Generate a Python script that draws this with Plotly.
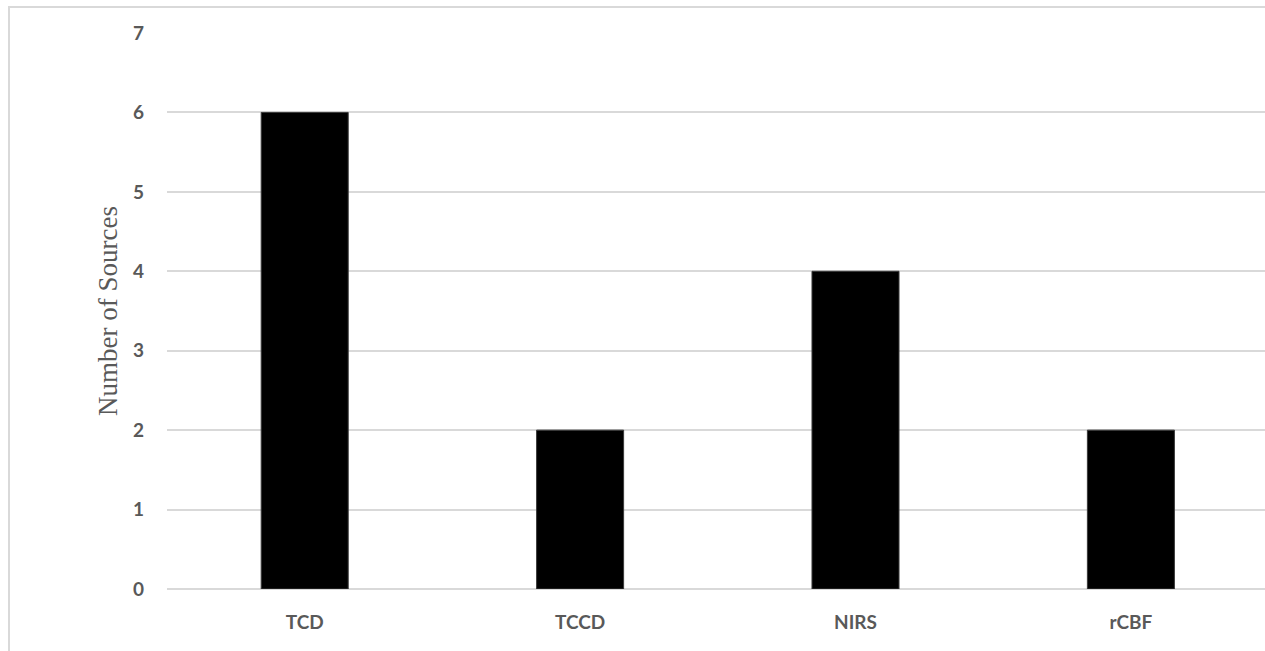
import plotly.graph_objects as go

categories = ["TCD", "TCCD", "NIRS", "rCBF"]
sources = [6, 2, 4, 2]
y_ticks = [0, 1, 2, 3, 4, 5, 6, 7]

W, H = 1265, 651
ml, mr, mt, mb = 167, 0, 33, 62

fig = go.Figure(
    go.Bar(
        x=categories,
        y=sources,
        marker=dict(color="#000000", line=dict(color="#3a3a3a", width=1)),
        hoverinfo="x+y",
    )
)

pw = W - ml - mr
ph = H - mt - mb

tick_font = dict(family="Lato", size=19, color="#595959", weight="bold")

fig.update_layout(
    width=W,
    height=H,
    margin=dict(l=ml, r=mr, t=mt, b=mb, autoexpand=False),
    paper_bgcolor="white",
    plot_bgcolor="white",
    bargap=0.684,
    showlegend=False,
    xaxis=dict(
        range=[-0.5, -0.5 + pw / 275.4],
        showgrid=False,
        showline=False,
        zeroline=False,
        ticks="",
        tickfont=tick_font,
        ticklabelstandoff=20,
    ),
    yaxis=dict(
        range=[0, 7],
        tickvals=y_ticks,
        ticktext=[str(v) for v in y_ticks],
        showgrid=True,
        gridcolor="#d9d9d9",
        gridwidth=1.5,
        zeroline=True,
        zerolinecolor="#d9d9d9",
        zerolinewidth=1.5,
        showline=False,
        ticks="",
        tickfont=tick_font,
        ticklabelstandoff=22,
        title=dict(
            text="Number of Sources",
            font=dict(family="Liberation Serif", size=27, color="#595959"),
            standoff=7,
        ),
    ),
    shapes=[
        dict(
            type="rect",
            xref="paper",
            yref="paper",
            x0=(9 - ml) / pw,
            x1=1.2,
            y0=-0.3,
            y1=(H - mb - 7) / ph,
            line=dict(color="#d9d9d9", width=2),
            fillcolor="rgba(0,0,0,0)",
            layer="below",
        )
    ],
)

fig.write_html("out.html")
